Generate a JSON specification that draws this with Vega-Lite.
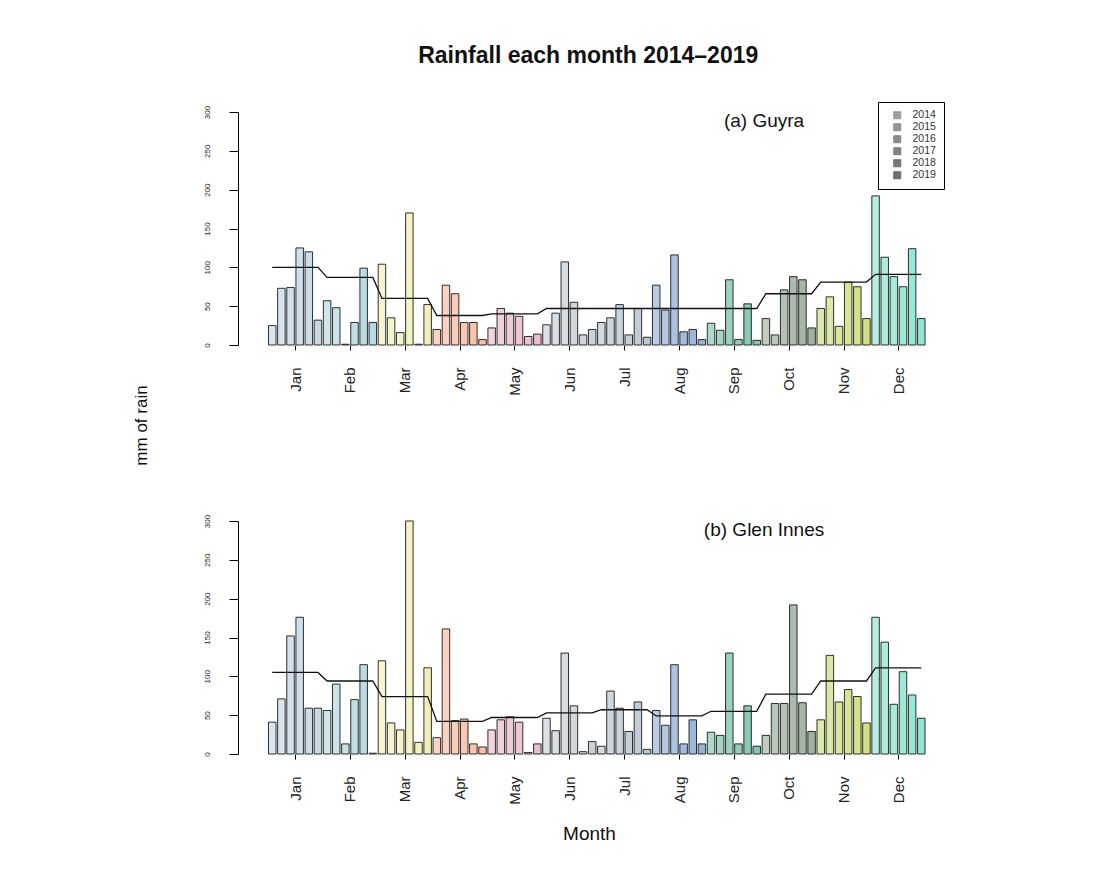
{
  "$schema": "https://vega.github.io/schema/vega-lite/v6.json",
  "autosize": {"type": "none"},
  "padding": {"left": 238, "top": 112, "right": 864, "bottom": 761},
  "background": "white",
  "config": {
    "view": {"stroke": null},
    "font": "Liberation Sans",
    "axis": {"labelFont": "Liberation Sans", "titleFont": "Liberation Sans", "grid": false, "labelOverlap": false, "labelBound": false, "labelFlush": false}
  },
  "title": {"text": "Rainfall each month 2014–2019", "fontSize": 23, "fontWeight": "bold", "font": "Liberation Sans", "anchor": "middle", "dx": 50, "color": "#111", "offset": 34},
  "datasets": {
    "guyra": [
      {"m":"Jan","yr":2014,"pos":1,"rain":25,"avg":100},{"m":"Jan","yr":2015,"pos":2,"rain":73,"avg":100},{"m":"Jan","yr":2016,"pos":3,"rain":74,"avg":100},{"m":"Jan","yr":2017,"pos":4,"rain":125,"avg":100},{"m":"Jan","yr":2018,"pos":5,"rain":120,"avg":100},{"m":"Jan","yr":2019,"pos":6,"rain":32,"avg":100},
      {"m":"Feb","yr":2014,"pos":7,"rain":57,"avg":87},{"m":"Feb","yr":2015,"pos":8,"rain":48,"avg":87},{"m":"Feb","yr":2016,"pos":9,"rain":1,"avg":87},{"m":"Feb","yr":2017,"pos":10,"rain":29,"avg":87},{"m":"Feb","yr":2018,"pos":11,"rain":99,"avg":87},{"m":"Feb","yr":2019,"pos":12,"rain":29,"avg":87},
      {"m":"Mar","yr":2014,"pos":13,"rain":104,"avg":60},{"m":"Mar","yr":2015,"pos":14,"rain":35,"avg":60},{"m":"Mar","yr":2016,"pos":15,"rain":16,"avg":60},{"m":"Mar","yr":2017,"pos":16,"rain":170,"avg":60},{"m":"Mar","yr":2018,"pos":17,"rain":1,"avg":60},{"m":"Mar","yr":2019,"pos":18,"rain":52,"avg":60},
      {"m":"Apr","yr":2014,"pos":19,"rain":20,"avg":38},{"m":"Apr","yr":2015,"pos":20,"rain":77,"avg":38},{"m":"Apr","yr":2016,"pos":21,"rain":66,"avg":38},{"m":"Apr","yr":2017,"pos":22,"rain":29,"avg":38},{"m":"Apr","yr":2018,"pos":23,"rain":29,"avg":38},{"m":"Apr","yr":2019,"pos":24,"rain":7,"avg":38},
      {"m":"May","yr":2014,"pos":25,"rain":22,"avg":40},{"m":"May","yr":2015,"pos":26,"rain":47,"avg":40},{"m":"May","yr":2016,"pos":27,"rain":41,"avg":40},{"m":"May","yr":2017,"pos":28,"rain":37,"avg":40},{"m":"May","yr":2018,"pos":29,"rain":11,"avg":40},{"m":"May","yr":2019,"pos":30,"rain":14,"avg":40},
      {"m":"Jun","yr":2014,"pos":31,"rain":26,"avg":47},{"m":"Jun","yr":2015,"pos":32,"rain":41,"avg":47},{"m":"Jun","yr":2016,"pos":33,"rain":107,"avg":47},{"m":"Jun","yr":2017,"pos":34,"rain":55,"avg":47},{"m":"Jun","yr":2018,"pos":35,"rain":13,"avg":47},{"m":"Jun","yr":2019,"pos":36,"rain":20,"avg":47},
      {"m":"Jul","yr":2014,"pos":37,"rain":29,"avg":47},{"m":"Jul","yr":2015,"pos":38,"rain":35,"avg":47},{"m":"Jul","yr":2016,"pos":39,"rain":52,"avg":47},{"m":"Jul","yr":2017,"pos":40,"rain":13,"avg":47},{"m":"Jul","yr":2018,"pos":41,"rain":47,"avg":47},{"m":"Jul","yr":2019,"pos":42,"rain":10,"avg":47},
      {"m":"Aug","yr":2014,"pos":43,"rain":77,"avg":47},{"m":"Aug","yr":2015,"pos":44,"rain":45,"avg":47},{"m":"Aug","yr":2016,"pos":45,"rain":116,"avg":47},{"m":"Aug","yr":2017,"pos":46,"rain":17,"avg":47},{"m":"Aug","yr":2018,"pos":47,"rain":20,"avg":47},{"m":"Aug","yr":2019,"pos":48,"rain":7,"avg":47},
      {"m":"Sep","yr":2014,"pos":49,"rain":28,"avg":47},{"m":"Sep","yr":2015,"pos":50,"rain":19,"avg":47},{"m":"Sep","yr":2016,"pos":51,"rain":84,"avg":47},{"m":"Sep","yr":2017,"pos":52,"rain":7,"avg":47},{"m":"Sep","yr":2018,"pos":53,"rain":53,"avg":47},{"m":"Sep","yr":2019,"pos":54,"rain":6,"avg":47},
      {"m":"Oct","yr":2014,"pos":55,"rain":34,"avg":66},{"m":"Oct","yr":2015,"pos":56,"rain":13,"avg":66},{"m":"Oct","yr":2016,"pos":57,"rain":71,"avg":66},{"m":"Oct","yr":2017,"pos":58,"rain":88,"avg":66},{"m":"Oct","yr":2018,"pos":59,"rain":84,"avg":66},{"m":"Oct","yr":2019,"pos":60,"rain":22,"avg":66},
      {"m":"Nov","yr":2014,"pos":61,"rain":47,"avg":81},{"m":"Nov","yr":2015,"pos":62,"rain":62,"avg":81},{"m":"Nov","yr":2016,"pos":63,"rain":24,"avg":81},{"m":"Nov","yr":2017,"pos":64,"rain":81,"avg":81},{"m":"Nov","yr":2018,"pos":65,"rain":75,"avg":81},{"m":"Nov","yr":2019,"pos":66,"rain":34,"avg":81},
      {"m":"Dec","yr":2014,"pos":67,"rain":192,"avg":91},{"m":"Dec","yr":2015,"pos":68,"rain":113,"avg":91},{"m":"Dec","yr":2016,"pos":69,"rain":88,"avg":91},{"m":"Dec","yr":2017,"pos":70,"rain":75,"avg":91},{"m":"Dec","yr":2018,"pos":71,"rain":124,"avg":91},{"m":"Dec","yr":2019,"pos":72,"rain":34,"avg":91}
    ],
    "glen": [
      {"m":"Jan","yr":2014,"pos":1,"rain":41,"avg":105},{"m":"Jan","yr":2015,"pos":2,"rain":71,"avg":105},{"m":"Jan","yr":2016,"pos":3,"rain":152,"avg":105},{"m":"Jan","yr":2017,"pos":4,"rain":176,"avg":105},{"m":"Jan","yr":2018,"pos":5,"rain":59,"avg":105},{"m":"Jan","yr":2019,"pos":6,"rain":59,"avg":105},
      {"m":"Feb","yr":2014,"pos":7,"rain":56,"avg":94},{"m":"Feb","yr":2015,"pos":8,"rain":90,"avg":94},{"m":"Feb","yr":2016,"pos":9,"rain":13,"avg":94},{"m":"Feb","yr":2017,"pos":10,"rain":70,"avg":94},{"m":"Feb","yr":2018,"pos":11,"rain":115,"avg":94},{"m":"Feb","yr":2019,"pos":12,"rain":1,"avg":94},
      {"m":"Mar","yr":2014,"pos":13,"rain":120,"avg":74},{"m":"Mar","yr":2015,"pos":14,"rain":40,"avg":74},{"m":"Mar","yr":2016,"pos":15,"rain":31,"avg":74},{"m":"Mar","yr":2017,"pos":16,"rain":300,"avg":74},{"m":"Mar","yr":2018,"pos":17,"rain":15,"avg":74},{"m":"Mar","yr":2019,"pos":18,"rain":111,"avg":74},
      {"m":"Apr","yr":2014,"pos":19,"rain":21,"avg":42},{"m":"Apr","yr":2015,"pos":20,"rain":161,"avg":42},{"m":"Apr","yr":2016,"pos":21,"rain":43,"avg":42},{"m":"Apr","yr":2017,"pos":22,"rain":45,"avg":42},{"m":"Apr","yr":2018,"pos":23,"rain":13,"avg":42},{"m":"Apr","yr":2019,"pos":24,"rain":9,"avg":42},
      {"m":"May","yr":2014,"pos":25,"rain":31,"avg":47},{"m":"May","yr":2015,"pos":26,"rain":44,"avg":47},{"m":"May","yr":2016,"pos":27,"rain":48,"avg":47},{"m":"May","yr":2017,"pos":28,"rain":41,"avg":47},{"m":"May","yr":2018,"pos":29,"rain":2,"avg":47},{"m":"May","yr":2019,"pos":30,"rain":13,"avg":47},
      {"m":"Jun","yr":2014,"pos":31,"rain":46,"avg":53},{"m":"Jun","yr":2015,"pos":32,"rain":30,"avg":53},{"m":"Jun","yr":2016,"pos":33,"rain":130,"avg":53},{"m":"Jun","yr":2017,"pos":34,"rain":62,"avg":53},{"m":"Jun","yr":2018,"pos":35,"rain":3,"avg":53},{"m":"Jun","yr":2019,"pos":36,"rain":16,"avg":53},
      {"m":"Jul","yr":2014,"pos":37,"rain":10,"avg":57},{"m":"Jul","yr":2015,"pos":38,"rain":81,"avg":57},{"m":"Jul","yr":2016,"pos":39,"rain":59,"avg":57},{"m":"Jul","yr":2017,"pos":40,"rain":29,"avg":57},{"m":"Jul","yr":2018,"pos":41,"rain":67,"avg":57},{"m":"Jul","yr":2019,"pos":42,"rain":6,"avg":57},
      {"m":"Aug","yr":2014,"pos":43,"rain":56,"avg":49},{"m":"Aug","yr":2015,"pos":44,"rain":37,"avg":49},{"m":"Aug","yr":2016,"pos":45,"rain":115,"avg":49},{"m":"Aug","yr":2017,"pos":46,"rain":13,"avg":49},{"m":"Aug","yr":2018,"pos":47,"rain":44,"avg":49},{"m":"Aug","yr":2019,"pos":48,"rain":13,"avg":49},
      {"m":"Sep","yr":2014,"pos":49,"rain":28,"avg":55},{"m":"Sep","yr":2015,"pos":50,"rain":24,"avg":55},{"m":"Sep","yr":2016,"pos":51,"rain":130,"avg":55},{"m":"Sep","yr":2017,"pos":52,"rain":13,"avg":55},{"m":"Sep","yr":2018,"pos":53,"rain":62,"avg":55},{"m":"Sep","yr":2019,"pos":54,"rain":10,"avg":55},
      {"m":"Oct","yr":2014,"pos":55,"rain":24,"avg":77},{"m":"Oct","yr":2015,"pos":56,"rain":65,"avg":77},{"m":"Oct","yr":2016,"pos":57,"rain":65,"avg":77},{"m":"Oct","yr":2017,"pos":58,"rain":192,"avg":77},{"m":"Oct","yr":2018,"pos":59,"rain":66,"avg":77},{"m":"Oct","yr":2019,"pos":60,"rain":29,"avg":77},
      {"m":"Nov","yr":2014,"pos":61,"rain":44,"avg":94},{"m":"Nov","yr":2015,"pos":62,"rain":127,"avg":94},{"m":"Nov","yr":2016,"pos":63,"rain":67,"avg":94},{"m":"Nov","yr":2017,"pos":64,"rain":83,"avg":94},{"m":"Nov","yr":2018,"pos":65,"rain":74,"avg":94},{"m":"Nov","yr":2019,"pos":66,"rain":40,"avg":94},
      {"m":"Dec","yr":2014,"pos":67,"rain":176,"avg":111},{"m":"Dec","yr":2015,"pos":68,"rain":144,"avg":111},{"m":"Dec","yr":2016,"pos":69,"rain":64,"avg":111},{"m":"Dec","yr":2017,"pos":70,"rain":106,"avg":111},{"m":"Dec","yr":2018,"pos":71,"rain":76,"avg":111},{"m":"Dec","yr":2019,"pos":72,"rain":46,"avg":111}
    ]
  },
  "vconcat": [
    {
      "width": 702,
      "height": 233,
      "layer": [
        {
          "data": {"name": "guyra"},
          "mark": {"type": "bar", "orient": "vertical", "width": 7.5, "strokeWidth": 0},
          "encoding": {
            "x": {"field": "pos", "type": "quantitative", "scale": {"domain": [-2.2, 73.5], "nice": false, "zero": false},
              "axis": {"values": [3.5, 9.5, 15.5, 21.5, 27.5, 33.5, 39.5, 45.5, 51.5, 57.5, 63.5, 69.5],
                "labelExpr": "['Jan','Feb','Mar','Apr','May','Jun','Jul','Aug','Sep','Oct','Nov','Dec'][floor(datum.value/6)]",
                "labelAngle": 270, "labelAlign": "right", "labelBaseline": "middle", "labelFontSize": 15, "labelColor": "#222", "labelOverlap": false,
                "tickSize": 5, "tickColor": "#000", "labelPadding": 17, "domain": false, "title": null}},
            "y": {"field": "rain", "type": "quantitative", "scale": {"domain": [0, 300], "nice": false},
              "axis": {"values": [0, 50, 100, 150, 200, 250, 300], "tickCount": 7, "labelAngle": 270, "labelAlign": "center", "labelBaseline": "bottom", "labelOverlap": false,
                "labelFontSize": 8, "labelColor": "#222", "tickSize": 9, "tickColor": "#000", "domainColor": "#000", "labelPadding": 18,
                "title": "mm of rain", "titleFontSize": 17, "titleFontWeight": "normal", "titleColor": "#111", "titleAngle": 270,
                "titleAlign": "center", "titleBaseline": "bottom", "titleX": -88, "titleY": 313}},
            "color": {"field": "m", "type": "nominal", "legend": null,
              "scale": {"domain": ["Jan","Feb","Mar","Apr","May","Jun","Jul","Aug","Sep","Oct","Nov","Dec"],
                "range": ["#a3bfd6","#86c2cc","#ece68c","#f4956b","#dc93b0","#a6b4c0","#8ea4b8","#4f7fc0","#2f9f7c","#5f7f60","#b0cc30","#44d4b4"]}},
            "opacity": {"field": "yr", "type": "ordinal",
              "scale": {"domain": [2014, 2015, 2016, 2017, 2018, 2019], "range": [0.4, 0.6, 0.12, 0.4, 0.75, 0.9]},
              "legend": {"title": null, "orient": "none", "legendX": 640, "legendY": -10, "strokeColor": "#000", "padding": 8,
                "symbolType": "square", "symbolSize": 49, "symbolFillColor": "#111", "symbolStrokeColor": "#000", "symbolStrokeWidth": 1, "symbolOffset": 6,
                "labelFontSize": 10.5, "labelFont": "Liberation Sans", "labelColor": "#333", "rowPadding": 0, "labelOffset": 10}}
          }
        },
        {
          "data": {"name": "guyra"},
          "mark": {"type": "bar", "orient": "vertical", "width": 7.5, "fillOpacity": 0, "stroke": "#1a1a1a", "strokeWidth": 0.9},
          "encoding": {
            "x": {"field": "pos", "type": "quantitative"},
            "y": {"field": "rain", "type": "quantitative"}
          }
        },
        {
          "data": {"name": "guyra"},
          "mark": {"type": "line", "color": "#111", "strokeWidth": 1.3},
          "encoding": {
            "x": {"field": "pos", "type": "quantitative"},
            "y": {"field": "avg", "type": "quantitative",
              "axis": {"values": [0, 50, 100, 150, 200, 250, 300], "tickCount": 7, "labelAngle": 270, "labelAlign": "center", "labelBaseline": "bottom", "labelOverlap": false,
                "labelFontSize": 8, "labelColor": "#222", "tickSize": 9, "tickColor": "#000", "domainColor": "#000", "labelPadding": 18,
                "title": "mm of rain", "titleFontSize": 17, "titleFontWeight": "normal", "titleColor": "#111", "titleAngle": 270,
                "titleAlign": "center", "titleBaseline": "bottom", "titleX": -88, "titleY": 313}}
          }
        },
        {
          "data": {"values": [{"label": "(a) Guyra", "px": 54.8, "py": 288}]},
          "mark": {"type": "text", "fontSize": 19, "font": "Liberation Sans", "color": "#111", "align": "center", "baseline": "middle"},
          "encoding": {
            "x": {"field": "px", "type": "quantitative"},
            "y": {"field": "py", "type": "quantitative",
              "axis": {"values": [0, 50, 100, 150, 200, 250, 300], "tickCount": 7, "labelAngle": 270, "labelAlign": "center", "labelBaseline": "bottom", "labelOverlap": false,
                "labelFontSize": 8, "labelColor": "#222", "tickSize": 9, "tickColor": "#000", "domainColor": "#000", "labelPadding": 18,
                "title": "mm of rain", "titleFontSize": 17, "titleFontWeight": "normal", "titleColor": "#111", "titleAngle": 270,
                "titleAlign": "center", "titleBaseline": "bottom", "titleX": -88, "titleY": 313}},
            "text": {"field": "label"}
          }
        }
      ]
    },
    {
      "width": 702,
      "height": 233,
      "layer": [
        {
          "data": {"name": "glen"},
          "mark": {"type": "bar", "orient": "vertical", "width": 7.5, "strokeWidth": 0},
          "encoding": {
            "x": {"field": "pos", "type": "quantitative", "scale": {"domain": [-2.2, 73.5], "nice": false, "zero": false},
              "axis": {"values": [3.5, 9.5, 15.5, 21.5, 27.5, 33.5, 39.5, 45.5, 51.5, 57.5, 63.5, 69.5],
                "labelExpr": "['Jan','Feb','Mar','Apr','May','Jun','Jul','Aug','Sep','Oct','Nov','Dec'][floor(datum.value/6)]",
                "labelAngle": 270, "labelAlign": "right", "labelBaseline": "middle", "labelFontSize": 15, "labelColor": "#222", "labelOverlap": false,
                "tickSize": 5, "tickColor": "#000", "labelPadding": 17, "domain": false,
                "title": "Month", "titleFontSize": 19, "titleFontWeight": "normal", "titleColor": "#111", "titleBaseline": "middle", "titleY": 79}},
            "y": {"field": "rain", "type": "quantitative", "scale": {"domain": [0, 300], "nice": false},
              "axis": {"values": [0, 50, 100, 150, 200, 250, 300], "tickCount": 7, "labelAngle": 270, "labelAlign": "center", "labelBaseline": "bottom", "labelOverlap": false,
                "labelFontSize": 8, "labelColor": "#222", "tickSize": 9, "tickColor": "#000", "domainColor": "#000", "labelPadding": 18,
                "title": null}},
            "color": {"field": "m", "type": "nominal", "legend": null},
            "opacity": {"field": "yr", "type": "ordinal", "legend": null,
              "scale": {"domain": [2014, 2015, 2016, 2017, 2018, 2019], "range": [0.4, 0.6, 0.12, 0.4, 0.75, 0.9]}}
          }
        },
        {
          "data": {"name": "glen"},
          "mark": {"type": "bar", "orient": "vertical", "width": 7.5, "fillOpacity": 0, "stroke": "#1a1a1a", "strokeWidth": 0.9},
          "encoding": {
            "x": {"field": "pos", "type": "quantitative"},
            "y": {"field": "rain", "type": "quantitative"}
          }
        },
        {
          "data": {"name": "glen"},
          "mark": {"type": "line", "color": "#111", "strokeWidth": 1.3},
          "encoding": {
            "x": {"field": "pos", "type": "quantitative"},
            "y": {"field": "avg", "type": "quantitative",
              "axis": {"values": [0, 50, 100, 150, 200, 250, 300], "tickCount": 7, "labelAngle": 270, "labelAlign": "center", "labelBaseline": "bottom", "labelOverlap": false,
                "labelFontSize": 8, "labelColor": "#222", "tickSize": 9, "tickColor": "#000", "domainColor": "#000", "labelPadding": 18,
                "title": null}}
          }
        },
        {
          "data": {"values": [{"label": "(b) Glen Innes", "px": 54.8, "py": 288}]},
          "mark": {"type": "text", "fontSize": 19, "font": "Liberation Sans", "color": "#111", "align": "center", "baseline": "middle"},
          "encoding": {
            "x": {"field": "px", "type": "quantitative"},
            "y": {"field": "py", "type": "quantitative",
              "axis": {"values": [0, 50, 100, 150, 200, 250, 300], "tickCount": 7, "labelAngle": 270, "labelAlign": "center", "labelBaseline": "bottom", "labelOverlap": false,
                "labelFontSize": 8, "labelColor": "#222", "tickSize": 9, "tickColor": "#000", "domainColor": "#000", "labelPadding": 18,
                "title": null}},
            "text": {"field": "label"}
          }
        }
      ]
    }
  ],
  "spacing": 176,
  "bounds": "flush",
  "resolve": {"scale": {"opacity": "independent"}, "legend": {"opacity": "independent"}}
}
